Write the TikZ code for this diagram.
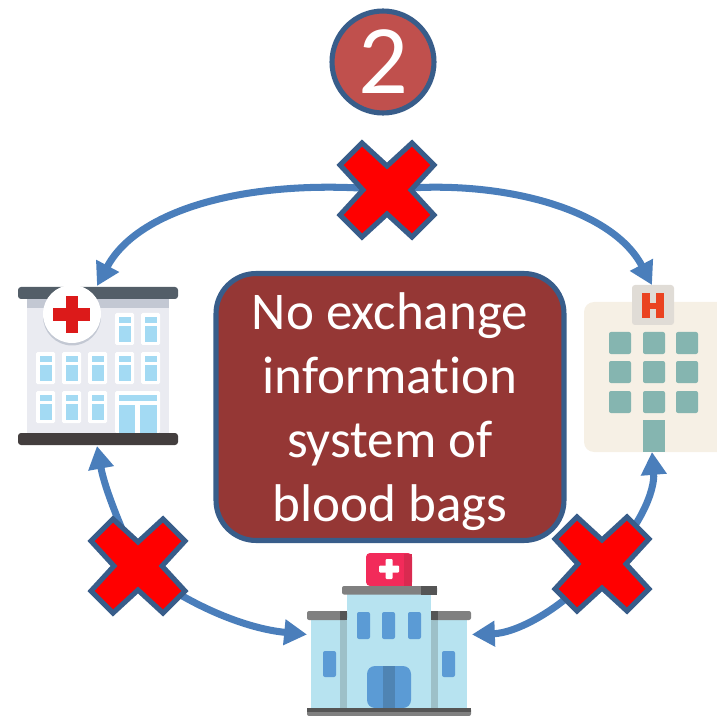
\documentclass[tikz,border=0pt]{standalone}
\usepackage{fontspec}
\setmainfont[Ligatures=NoCommon]{Carlito}
\usetikzlibrary{arrows.meta,positioning}
\definecolor{linkblue}{HTML}{4A7EBB}
\definecolor{edgeblue}{HTML}{385D8A}
\definecolor{badgered}{HTML}{C0504D}
\definecolor{boxred}{HTML}{953735}
\definecolor{paneblue}{HTML}{A3DAF3}
\definecolor{wallgray}{HTML}{EAEBF1}
\definecolor{eavegray}{HTML}{C3C8D3}
\definecolor{topslate}{HTML}{535E68}
\definecolor{crossred}{HTML}{DC1A1A}
\definecolor{basedark}{HTML}{433E3E}
\definecolor{creamwall}{HTML}{F6F0E5}
\definecolor{signgray}{HTML}{E0DCD6}
\definecolor{letterred}{HTML}{EA4321}
\definecolor{tealwin}{HTML}{85B5B0}
\definecolor{signpink}{HTML}{F22B5A}
\definecolor{signshade}{HTML}{D92A50}
\definecolor{skywall}{HTML}{B7E3F0}
\definecolor{stripwall}{HTML}{9DC0C8}
\definecolor{bluewin}{HTML}{5B9BD5}
\definecolor{doormid}{HTML}{4F84B3}
\definecolor{roofgray}{HTML}{808080}
\definecolor{roofdark}{HTML}{555555}
\tikzset{
  link/.style={draw=linkblue,line width=4pt,-{Triangle[length=13pt,width=14pt]}},
  buildingbox/.style={inner sep=0pt,outer sep=0pt},
  badge/.style={circle,draw=edgeblue,fill=badgered,line width=2.9pt,minimum size=2.04cm,inner sep=0pt,text=white},
  infobox/.style={draw=edgeblue,fill=boxred,line width=2.9pt,rounded corners=0.8cm,minimum width=6.96cm,minimum height=5.34cm},
  infotext/.style={text=white,align=center,font=\fontsize{30.2}{36.4}\selectfont},
  crossmark/.pic={
    \filldraw[draw=edgeblue,fill=red,line width=2.9pt,line join=miter]
      (0,-24)--(25,-47)--(47,-25)--(24,0)--(47,25)--(25,47)--(0,24)--(-25,47)--(-47,25)--(-24,0)--(-47,-25)--(-25,-47)--cycle;
  }
}
\begin{document}
\begin{tikzpicture}[x=0.02cm,y=-0.02cm]
\useasboundingbox (0,0) rectangle (717,716);

\node[badge,font=\fontsize{56}{56}\selectfont] (stepBadge) at (383,62) {\raisebox{-1pt}{2}};
\node[infobox] (infoBox) at (390,407) {};
\node[infotext] (infoText) at (390,412) {No exchange\\information\\system of\\blood bags};

\coordinate (crossTop) at (387,190);
\coordinate (crossLeft) at (138,566);
\coordinate (crossRight) at (602,564);
\node[buildingbox,minimum width=3.2cm,minimum height=3.2cm] (hospLeft) at (97,366) {};
\node[buildingbox,minimum width=2.66cm,minimum height=3.34cm] (hospRight) at (652,368.5) {};
\node[buildingbox,minimum width=3.3cm,minimum height=3.26cm] (hospBottom) at (389.5,634.5) {};

% left building
\fill[wallgray] (27,299) rectangle (169,433);
\fill[eavegray] (27,299) rectangle (169,308);
\fill[topslate,rounded corners=0.06cm] (18,287) rectangle (178,299);
\fill[eavegray] (72,316.5) circle (0.58cm);
\fill[white] (72,314) circle (0.58cm);
\fill[crossred] (66,296) rectangle (77.5,333);
\fill[crossred] (53,308) rectangle (90,321);
\foreach \wx/\wy in {115/313,141/313,36/352,62/352,88/352,115/352,141/352,36/391,62/391,88/391}{
  \fill[white,rounded corners=0.03cm] (\wx,\wy) rectangle ++(19,32);
  \fill[paneblue] (\wx+3.5,\wy+4) rectangle ++(12,6);
  \fill[paneblue] (\wx+3.5,\wy+13) rectangle ++(12,16);
}
\fill[white,rounded corners=0.03cm] (115,391) rectangle (160,433);
\fill[paneblue] (118.5,395) rectangle (156.5,401);
\fill[paneblue] (118.5,405) rectangle (135,433);
\fill[paneblue] (139.5,405) rectangle (156.5,433);
\fill[basedark,rounded corners=0.06cm] (18,445) -- (18,433) -- (178,433) -- (178,445) -- cycle;

% right building
\fill[creamwall,rounded corners=0.2cm] (584,302) rectangle (730,452);
\fill[signgray,rounded corners=0.06cm] (632,285) rectangle (674,325);
\fill[letterred] (642,293) rectangle (650,318);
\fill[letterred] (656,293) rectangle (664,318);
\fill[letterred] (650,303) rectangle (656,309);
\foreach \wx in {609,643,676}{
  \foreach \wy in {332,361,391}{
    \fill[tealwin,rounded corners=0.04cm] (\wx,\wy) rectangle ++(22,22);
  }
}
\fill[tealwin] (643,420) rectangle (665,452);

% bottom building
\fill[signpink,rounded corners=0.08cm] (366,586) -- (366,553) -- (412,553) -- (412,586) -- cycle;
\fill[signshade] (404,554) rectangle (412,586);
\fill[white,rounded corners=0.02cm] (379,565.5) rectangle (399,572.5);
\fill[white,rounded corners=0.02cm] (385.5,559) rectangle (392.5,579);
\fill[skywall] (347,594) rectangle (431,708);
\fill[skywall] (311,620) rectangle (347,708);
\fill[skywall] (431,620) rectangle (467,708);
\fill[stripwall] (340,620) rectangle (347,708);
\fill[stripwall] (431,620) rectangle (438,708);
\fill[roofgray,rounded corners=0.04cm] (342,586) rectangle (437,594.5);
\fill[roofdark] (421,586) rectangle (437,594.5);
\fill[roofgray,rounded corners=0.04cm] (307,611) rectangle (347,620);
\fill[roofgray,rounded corners=0.04cm] (431,611) rectangle (471,620);
\fill[roofdark] (340,611) rectangle (347,620);
\fill[roofdark] (431,611) rectangle (438,620);
\foreach \wx in {357,382,408}{
  \fill[bluewin,rounded corners=0.04cm] (\wx,612) rectangle ++(13,27);
}
\fill[bluewin,rounded corners=0.04cm] (323,651) rectangle (336,677);
\fill[bluewin,rounded corners=0.04cm] (442,651) rectangle (455,677);
\fill[bluewin,rounded corners=0.16cm] (367,708) -- (367,666) -- (411,666) -- (411,708) -- cycle;
\fill[doormid] (383,666) rectangle (395,708);
\fill[roofgray,rounded corners=0.04cm] (307,708) rectangle (471,716);
\fill[roofdark] (307,708) rectangle (471,712);

% connectors
\draw[link] (crossTop) .. controls (260,178) and (140,205) .. (hospLeft.north);
\draw[link] (crossTop) .. controls (490,178) and (610,205) .. (hospRight.north);
\draw[link] (crossLeft) .. controls (122,530) and (105,490) .. (hospLeft.south);
\draw[link] (crossLeft) .. controls (180,600) and (240,628) .. (hospBottom.west);
\draw[link] (crossRight) .. controls (640,530) and (655,490) .. (hospRight.south);
\draw[link] (crossRight) .. controls (560,612) and (515,633) .. (hospBottom.east);

\pic at (crossTop) {crossmark};
\pic at (crossLeft) {crossmark};
\pic at (crossRight) {crossmark};

\end{tikzpicture}
\end{document}
